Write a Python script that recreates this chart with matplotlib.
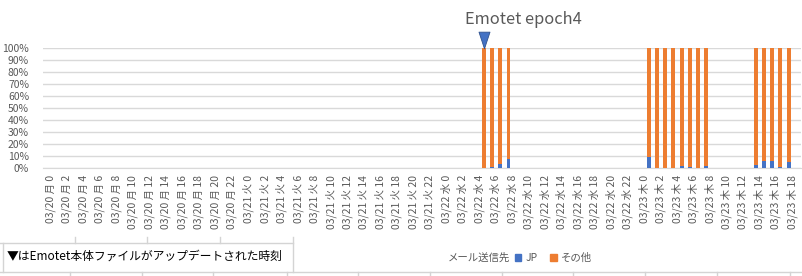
import matplotlib
matplotlib.use("Agg")
import matplotlib.pyplot as plt
import matplotlib.transforms as mtransforms
from matplotlib.lines import Line2D
from matplotlib.patches import Patch
from matplotlib.path import Path

plt.rcParams['font.family'] = ['Noto Sans CJK JP', 'DejaVu Sans']

# ---- data ----
days = ["03/20 月", "03/21 火", "03/22 水", "03/23 木"]
hours_per_day = [24, 24, 24, 20]
categories = [f"{d} {h}" for d, n in zip(days, hours_per_day) for h in range(n)]

# JP share (%) per hour
jp = [0] * 24 + [0] * 24 + [
    0, 0, 0, 0, 0, 0, 0.7, 3.6, 7.5, 0, 0, 0,
    0, 0, 0, 0, 0, 0, 0, 0, 0, 0, 0, 0,
] + [
    0, 9.2, 0, 0, 0, 1.9, 0.8, 0, 1.9, 0, 0, 0,
    0, 0, 2.5, 5.8, 5.8, 0.8, 5.0, 0,
]
# Other share (%) per hour
other = [0] * 24 + [0] * 24 + [
    0, 0, 0, 0, 0, 100, 99.3, 96.4, 92.5, 0, 0, 0,
    0, 0, 0, 0, 0, 0, 0, 0, 0, 0, 0, 0,
] + [
    0, 90.8, 100, 100, 100, 98.1, 99.2, 100, 98.1, 0, 0, 0,
    0, 0, 97.5, 94.2, 94.2, 99.2, 95.0, 0,
]
update_marker_category = "03/22 水 5"
title_text = "Emotet epoch4"
note_text = "▼はEmotet本体ファイルがアップデートされた時刻"
legend_title = "メール送信先"
series_names = ["JP", "その他"]
yticks = list(range(0, 101, 10))

# ---- figure ----
W, H = 802, 276
fig = plt.figure(figsize=(W / 100, H / 100), dpi=100)

def fx(px):
    return px / W

def fy(py):
    return 1 - py / H

ax = fig.add_axes([fx(43), fy(168), fx(801) - fx(43), fy(48) - fy(168)])
blue = "#4472C4"
orange = "#ED7D31"
grid = "#D9D9D9"
txt = "#595959"

x = list(range(len(categories)))
ax.bar(x, jp, width=0.48, color=blue, zorder=3)
ax.bar(x, other, bottom=jp, width=0.48, color=orange, zorder=3)

ax.set_xlim(-0.5, len(categories) - 0.5)
ax.set_ylim(0, 100)
ax.set_yticks(yticks)
ax.set_yticklabels([f"{v}%" for v in yticks])
ax.yaxis.grid(True, color=grid, linewidth=1)
ax.set_axisbelow(True)
for s in ["top", "right", "left"]:
    ax.spines[s].set_visible(False)
ax.spines["bottom"].set_color(grid)
ax.tick_params(axis="both", length=0, colors=txt, labelsize=7.5)
ax.tick_params(axis="x", pad=5)
ax.tick_params(axis="y", pad=10)
ax.set_xticks(x[::2])
ax.set_xticklabels(categories[::2], rotation=90, fontsize=7.5, color=txt)
shift = mtransforms.ScaledTranslation(0.035, 0, fig.dpi_scale_trans)
for lab in ax.get_xticklabels():
    lab.set_transform(lab.get_transform() + shift)

# update marker
tri = Path([(-0.33, 0.5), (0.33, 0.5), (0, -0.5), (-0.33, 0.5)],
           [Path.MOVETO, Path.LINETO, Path.LINETO, Path.CLOSEPOLY])
mi = categories.index(update_marker_category)
ax.plot([mi], [106.5], marker=tri, markersize=12, color=blue,
        markeredgecolor="#2F528F", markeredgewidth=0.6, clip_on=False, zorder=5)

fig.text(fx(523), fy(19), title_text, ha="center", va="center",
         fontsize=11.8, color=txt)

# legend
fig.text(fx(448), fy(258), legend_title, ha="left", va="center",
         fontsize=7.5, color=txt)
handles = [Patch(color=blue), Patch(color=orange)]
fig.legend(handles, series_names, loc="center left",
           bbox_to_anchor=(fx(510), fy(258)), ncol=2, frameon=False,
           fontsize=7.5, labelcolor=txt, handlelength=0.6, handleheight=0.6,
           handletextpad=0.4, columnspacing=1.2, borderpad=0)

# note box and cell grid lines
lc = "#D4D4D4"
def hline(y, x0, x1):
    fig.add_artist(Line2D([fx(x0), fx(x1)], [fy(y), fy(y)], color=lc, lw=1))
def vline(xp, y0, y1):
    fig.add_artist(Line2D([fx(xp), fx(xp)], [fy(y0), fy(y1)], color=lc, lw=1))

hline(243, 0, 293)
for xp in [75, 147, 220]:
    vline(xp, 237, 243)
vline(3, 243, 272)
vline(293, 237, 272)
hline(272, 0, W)
for xp in [70, 142, 213, 287, 358, 430, 502, 573, 645, 717, 790]:
    vline(xp, 272, 276)

fig.text(fx(7), fy(256), note_text, ha="left", va="center",
         fontsize=8.5, color="#000000")

fig.savefig("out.png", dpi=100)
